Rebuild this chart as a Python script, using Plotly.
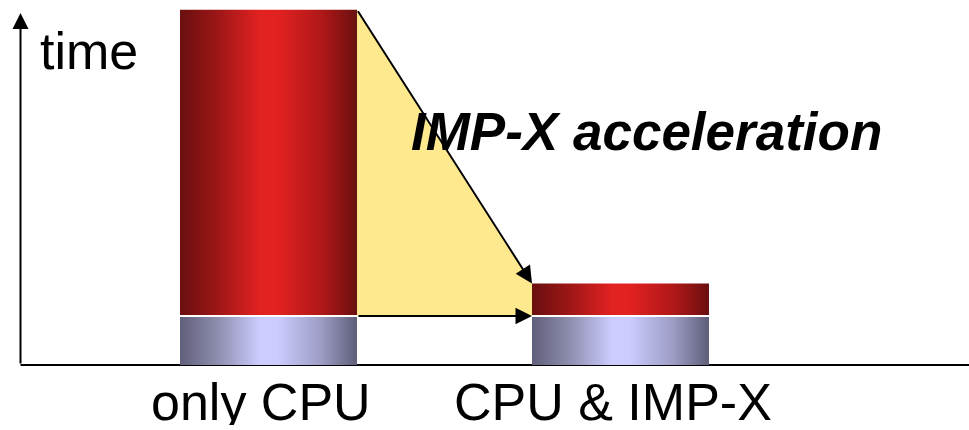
import plotly.graph_objects as go

# Execution time per configuration (arbitrary time units)
categories = ["only CPU", "CPU & IMP-X"]
cpu_time = [1.0, 1.0]          # portion that stays on the CPU
accel_time = [6.4, 0.7]        # portion that IMP-X accelerates
y_label = "time"
gain_label = "IMP-X acceleration"

FONT = "Liberation Sans, Arial, sans-serif"
HALF_W = 0.2514          # half bar width in x units
GAP = 2 / 48             # white separator between the two segments

RED_SCALE = [[0.0, "#6a0f0f"], [0.2, "#9a1616"], [0.45, "#e22121"],
             [0.55, "#e22121"], [0.8, "#b01818"], [1.0, "#6a0f0f"]]
LAV_SCALE = [[0.0, "#60607c"], [0.2, "#8a8aaa"], [0.45, "#ccccff"],
             [0.55, "#ccccff"], [0.8, "#9c9cc4"], [1.0, "#5e5e78"]]

fig = go.Figure()

xs = [i + 1 for i in range(len(categories))]
tops = [c + a for c, a in zip(cpu_time, accel_time)]

# shaded "saved time" region between the two bars
left_r = xs[0] + HALF_W
right_l = xs[1] - HALF_W
fig.add_trace(go.Scatter(
    x=[left_r, right_l, right_l, left_r, left_r],
    y=[tops[0], tops[1], cpu_time[1] + GAP / 2, cpu_time[0] + GAP / 2, tops[0]],
    fill="toself", fillcolor="#ffe98f", mode="lines", line=dict(width=0),
    hoverinfo="skip"))

# cylinder-shaded stacked bars
for x, c, top in zip(xs, cpu_time, tops):
    x0, x1 = x - HALF_W, x + HALF_W
    fig.add_trace(go.Scatter(
        x=[x0, x1, x1, x0, x0], y=[0, 0, c, c, 0],
        fill="toself", mode="lines", line=dict(width=0),
        fillgradient=dict(type="horizontal", colorscale=LAV_SCALE),
        hoverinfo="skip"))
    fig.add_trace(go.Scatter(
        x=[x0, x1, x1, x0, x0], y=[c + GAP, c + GAP, top, top, c + GAP],
        fill="toself", mode="lines", line=dict(width=0),
        fillgradient=dict(type="horizontal", colorscale=RED_SCALE),
        hoverinfo="skip"))

X_MIN, X_MAX = 1 - 268.5 / 352, 1 + 700.5 / 352
Y_MIN, Y_MAX = -65 / 48, 365 / 48
AXIS_X = 1 + (20.5 - 268.5) / 352

# horizontal axis line
fig.add_shape(type="line", x0=AXIS_X, x1=X_MAX, y0=0, y1=0,
              line=dict(color="black", width=2), layer="below")

annotations = [
    # vertical axis with arrow
    dict(x=AXIS_X, y=352 / 48, ax=AXIS_X, ay=0, axref="x", ayref="y",
         showarrow=True, arrowhead=2, arrowsize=1.6, arrowwidth=2,
         arrowcolor="black", text=""),
    # shrink arrow from the tall bar to the short bar
    dict(x=right_l, y=tops[1], ax=left_r, ay=tops[0], axref="x", ayref="y",
         showarrow=True, arrowhead=2, arrowsize=1.7, arrowwidth=2,
         arrowcolor="black", text=""),
    # CPU part stays the same
    dict(x=right_l, y=cpu_time[1] + GAP / 2, ax=left_r, ay=cpu_time[0] + GAP / 2,
         axref="x", ayref="y", showarrow=True, arrowhead=2, arrowsize=1.5,
         arrowwidth=2.2, arrowcolor="black", text=""),
    dict(x=1 + (89 - 268.5) / 352, y=(365 - 51) / 48, text=y_label,
         showarrow=False, font=dict(family=FONT, size=52, color="black"),
         xanchor="center", yanchor="middle"),
    dict(x=1 + (409 - 268.5) / 352, y=(365 - 131) / 48, text=f"<b><i>{gain_label}</i></b>",
         showarrow=False, font=dict(family=FONT, size=53, color="black"),
         xanchor="left", yanchor="middle"),
]
for x, cat in zip(xs, categories):
    annotations.append(dict(x=x, y=-37 / 48, text=cat, showarrow=False, xshift=-8,
                            font=dict(family=FONT, size=52, color="black"),
                            height=46, valign="middle",
                            xanchor="center", yanchor="middle"))

fig.update_layout(
    width=969, height=430, margin=dict(l=0, r=0, t=0, b=0),
    paper_bgcolor="white", plot_bgcolor="white", showlegend=False,
    xaxis=dict(range=[X_MIN, X_MAX], visible=False, fixedrange=True),
    yaxis=dict(range=[Y_MIN, Y_MAX], visible=False, fixedrange=True),
    annotations=annotations,
)

fig.write_html("out.html")
